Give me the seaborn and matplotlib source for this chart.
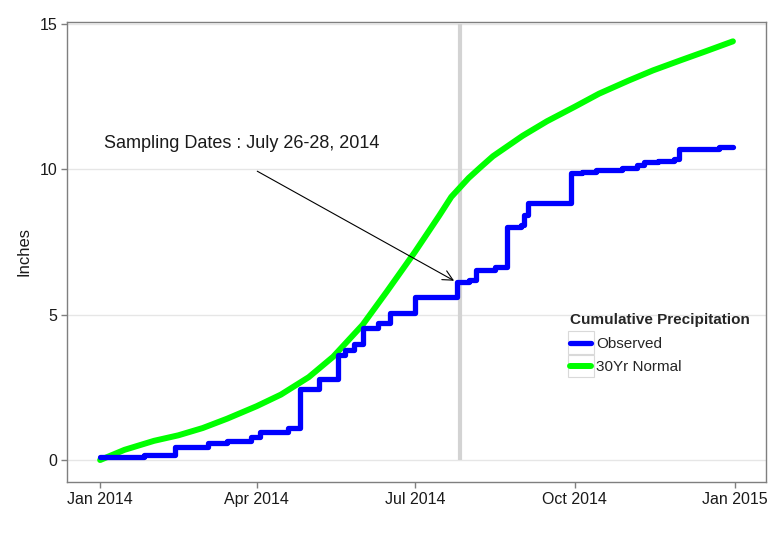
import matplotlib
matplotlib.use("Agg")
import matplotlib.pyplot as plt
import matplotlib.dates as mdates
from matplotlib.legend_handler import HandlerLine2D
from matplotlib.patches import Rectangle
import seaborn as sns
import pandas as pd

# observed cumulative precipitation (step changes), inches
obs_dates = ["2014-01-01", "2014-01-26", "2014-02-13", "2014-03-04", "2014-03-15",
             "2014-03-29", "2014-04-03", "2014-04-19", "2014-04-26", "2014-05-07",
             "2014-05-18", "2014-05-22", "2014-05-27", "2014-06-01", "2014-06-10",
             "2014-06-17", "2014-07-01", "2014-07-25", "2014-08-01", "2014-08-05",
             "2014-08-16", "2014-08-23", "2014-08-31", "2014-09-02", "2014-09-04",
             "2014-09-29", "2014-10-05", "2014-10-13", "2014-10-28", "2014-11-06",
             "2014-11-10", "2014-11-18", "2014-11-27", "2014-11-30", "2014-12-23",
             "2014-12-31"]
obs_vals = [0.10, 0.17, 0.45, 0.58, 0.65,
            0.78, 0.96, 1.10, 2.45, 2.78,
            3.60, 3.80, 4.00, 4.55, 4.70,
            5.05, 5.60, 6.12, 6.20, 6.55,
            6.65, 8.00, 8.10, 8.43, 8.84,
            9.87, 9.90, 9.98, 10.04, 10.15,
            10.25, 10.29, 10.35, 10.70, 10.77,
            10.77]

# 30-year normal cumulative precipitation, inches
norm_dates = ["2014-01-01", "2014-01-15", "2014-02-01", "2014-02-15", "2014-03-01",
              "2014-03-15", "2014-04-01", "2014-04-15", "2014-05-01", "2014-05-15",
              "2014-06-01", "2014-06-15", "2014-07-01", "2014-07-15", "2014-07-22",
              "2014-08-01", "2014-08-08", "2014-08-15", "2014-09-01", "2014-09-15",
              "2014-10-01", "2014-10-15", "2014-11-01", "2014-11-15", "2014-12-01",
              "2014-12-15", "2014-12-31"]
norm_vals = [0.00, 0.35, 0.66, 0.85, 1.10,
             1.42, 1.85, 2.25, 2.85, 3.55,
             4.65, 5.80, 7.15, 8.40, 9.05,
             9.70, 10.08, 10.45, 11.15, 11.65,
             12.15, 12.60, 13.05, 13.40, 13.75,
             14.05, 14.40]

sample_date = "2014-07-27"
note_text = "Sampling Dates : July 26-28, 2014"
tick_dates = ["2014-01-01", "2014-04-01", "2014-07-01", "2014-10-01", "2015-01-01"]

obs = pd.DataFrame({"date": pd.to_datetime(obs_dates), "inches": obs_vals})
norm = pd.DataFrame({"date": pd.to_datetime(norm_dates), "inches": norm_vals})


class BoxedLine(HandlerLine2D):
    # legend key drawn inside a light grey box, like ggplot
    def create_artists(self, legend, orig_handle, xdescent, ydescent,
                       width, height, fontsize, trans):
        arts = super().create_artists(legend, orig_handle, xdescent, ydescent,
                                      width, height, fontsize, trans)
        box_h = fontsize * 1.45
        rect = Rectangle((-xdescent - 1.5, -ydescent - (box_h - height) / 2),
                         width + 3, box_h, transform=trans, fc="white",
                         ec="#d9d9d9", lw=0.8)
        return [rect] + arts


sns.set_style("white")
plt.rcParams["font.family"] = ["Liberation Sans", "DejaVu Sans"]

fig = plt.figure(figsize=(7.8, 5.33), dpi=100)
ax = fig.add_axes([0.086, 0.096, 0.896, 0.863])

ax.vlines(pd.Timestamp(sample_date), 0, 15, color="#d3d3d3", lw=3, zorder=1)
sns.lineplot(data=obs, x="date", y="inches", ax=ax, color="#0000ff", lw=3.8,
             drawstyle="steps-post", label="Observed", zorder=3)
sns.lineplot(data=norm, x="date", y="inches", ax=ax, color="#00ff00", lw=4.3,
             label="30Yr Normal", zorder=2)

ax.annotate("", xy=(pd.Timestamp("2014-07-25"), 6.12),
            xytext=(pd.Timestamp("2014-03-31"), 9.98),
            arrowprops=dict(arrowstyle="->", color="black", lw=0.8,
                            mutation_scale=18), zorder=4)
ax.text(pd.Timestamp("2014-01-03"), 10.9, note_text, fontsize=13,
        va="center", ha="left", color="#1a1a1a")

ax.set_xlim(pd.Timestamp("2013-12-13"), pd.Timestamp("2015-01-19"))
ax.set_ylim(-0.75, 15.07)
ax.set_yticks([0, 5, 10, 15])
ax.set_xticks(pd.to_datetime(tick_dates))
ax.xaxis.set_major_formatter(mdates.DateFormatter("%b %Y"))
ax.grid(axis="y", color="#e6e6e6", lw=1)
ax.grid(axis="x", visible=False)
ax.set_axisbelow(True)
for s in ax.spines.values():
    s.set_color("#7f7f7f")
    s.set_linewidth(1)
ax.tick_params(axis="both", length=4, width=1, color="#7f7f7f",
               labelsize=11.5, labelcolor="#1a1a1a", pad=3)
ax.tick_params(axis="both", which="both", bottom=True, left=True)
ax.set_xlabel("")
ax.set_ylabel("Inches", fontsize=12, labelpad=6, color="#1a1a1a")

leg = ax.legend(title="Cumulative Precipitation", loc="upper left",
                bbox_to_anchor=(0.711, 0.38), frameon=False, fontsize=11,
                handlelength=1.4, handletextpad=0.3, labelspacing=0.62,
                borderaxespad=0, handler_map={plt.Line2D: BoxedLine()})
leg.get_title().set_fontweight("bold")
leg.get_title().set_fontsize(11)
leg._legend_box.align = "left"
leg._legend_box.sep = 7

fig.savefig("out.png", dpi=100, facecolor="white")
